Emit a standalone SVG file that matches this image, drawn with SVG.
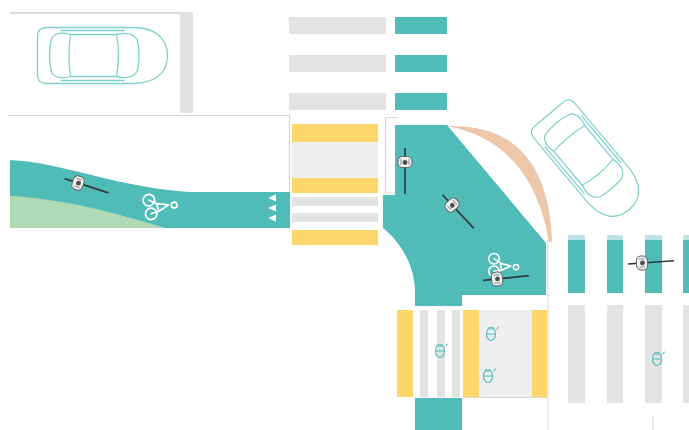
<svg xmlns="http://www.w3.org/2000/svg" width="689" height="430" viewBox="0 0 689 430">
  <style>
    .teal { fill: #4fbcb8; }
    .yellow { fill: #fdd66c; }
    .stripe { fill: #e3e3e3; }
    .pale { fill: #efefef; }
    .curb { fill: none; stroke: #d6d6d6; stroke-width: 1.2; }
    .car { fill: none; stroke: #7fd2cb; stroke-width: 1.3; stroke-linejoin: round; }
    .bike { fill: none; stroke: #ffffff; stroke-width: 1.5; stroke-linecap: round; stroke-linejoin: round; }
    .ped { fill: none; stroke: #4fbcb8; stroke-width: 1.1; stroke-linecap: round; }
    .tip { fill: #ffffff; }
  </style>
  <defs>
    <!-- car outline, centred on origin, front towards +x -->
    <g id="car-shape" class="car">
      <path d="M-56,-28 H30 C52,-28 65,-18 65,0 C65,18 52,28 30,28 H-56 Q-65,28 -65,19 V-19 Q-65,-28 -56,-28 Z"/>
      <path d="M-32,-21 Q-46,-25 -51,-17 Q-55,0 -51,17 Q-46,25 -32,21 Q-35,0 -32,-21 Z"/>
      <path d="M14,-21 Q30,-25 35,-15 Q38,0 35,15 Q30,25 14,21 Q18,0 14,-21 Z"/>
      <path d="M-32,-21 H14 M-32,21 H14 M-42,-25 H22 M-42,25 H22"/>
    </g>
    <!-- rider seen from above, heading towards +x -->
    <g id="cyclist">
      <line x1="-14" y1="0" x2="32" y2="0" stroke="#2f3a3a" stroke-width="1.7"/>
      <rect x="-5.5" y="-7" width="11" height="14" rx="4.5" fill="#f2f2f2" stroke="#5e6262" stroke-width="1"/>
      <path d="M-3,-4 H3 M-3,4 H3" stroke="#8a8a8a" stroke-width="1"/>
      <circle cx="0.5" cy="0" r="2.4" fill="#4a4f4f"/>
    </g>
    <!-- painted bicycle symbol -->
    <g id="bike-mark" class="bike">
      <circle cx="-6" cy="0" r="5"/>
      <circle cx="6" cy="0" r="5"/>
      <path d="M-6,0 L-2,-6 L5,-7 L6,0 M-2,-6 L1,-16 L5,-7"/>
      <circle cx="2" cy="-21" r="2.5"/>
    </g>
    <!-- pedestrian seen from above -->
    <g id="walker" class="ped">
      <ellipse cx="0" cy="0" rx="4.5" ry="6.5"/>
      <path d="M-4.5,0 H4.5 M-2,-6 Q0,-3 2,-6 M6,-5 L7.5,-7"/>
    </g>
  </defs>

  <rect width="689" height="430" fill="#ffffff"/>

  <!-- parking bay top left -->
  <g id="parking-bay">
    <line x1="10" y1="13" x2="183" y2="13" stroke="#dddddd" stroke-width="2"/>
    <rect x="180" y="12" width="13" height="101" fill="#e2e2e2"/>
    <use href="#car-shape" transform="translate(102.5,55.5)"/>
  </g>

  <!-- kerb lines -->
  <g id="kerbs">
    <path class="curb" d="M8,115.5 H289.5 V193"/>
    <path class="curb" d="M398,117.5 H385.5 V193 H395"/>
    <line x1="548" y1="240" x2="548" y2="430" stroke="#dddddd" stroke-width="1.2"/>
    <line x1="653" y1="417" x2="653" y2="430" stroke="#dddddd" stroke-width="1.2"/>
  </g>

  <!-- northern crossing -->
  <g id="north-crossing">
    <rect class="stripe" x="289" y="17" width="97" height="17"/>
    <rect class="stripe" x="289" y="55" width="97" height="17"/>
    <rect class="stripe" x="289" y="93" width="97" height="17"/>
    <rect class="teal" x="395" y="17" width="52" height="17"/>
    <rect class="teal" x="395" y="55" width="52" height="17"/>
    <rect class="teal" x="395" y="93" width="52" height="17"/>
  </g>

  <!-- cycle track from the west -->
  <g id="cycle-track">
    <path class="teal" d="M10,160 C60,162 120,188 190,192 L290,192 L290,228 L10,228 Z"/>
    <path fill="#b0d9b5" d="M10,196 C60,198 120,214 165,228 L10,228 Z"/>
    <polygon class="tip" points="268,198 276,194.5 276,201.5"/>
    <polygon class="tip" points="268,208 276,204.5 276,211.5"/>
    <polygon class="tip" points="268,218 276,214.5 276,221.5"/>
    <use href="#bike-mark" transform="translate(150,207) rotate(80) scale(1.15)"/>
  </g>

  <!-- central crossing -->
  <g id="central-crossing">
    <rect class="yellow" x="292" y="124" width="86" height="18"/>
    <rect class="pale" x="292" y="142" width="86" height="36"/>
    <rect class="yellow" x="292" y="178" width="86" height="15"/>
    <rect class="stripe" x="292" y="197" width="86" height="9"/>
    <rect class="stripe" x="292" y="213" width="86" height="9"/>
    <rect class="yellow" x="292" y="230" width="86" height="15"/>
  </g>

  <!-- junction surface -->
  <g id="junction">
    <path class="teal" d="M395,125 H447 L546,243 V295 H462 V306 H415 V290 C414,262 398,240 383,228 V195 H395 Z"/>
    <path fill="#eec6aa" d="M447,126 Q548,123 552,242 L549,242 Q532,142 447,126 Z"/>
    <use href="#bike-mark" transform="translate(494,265) rotate(90) scale(1.05)"/>
  </g>

  <!-- southern crossing -->
  <g id="south-crossing">
    <rect class="yellow" x="397" y="310" width="16" height="87"/>
    <rect class="stripe" x="420" y="310" width="8" height="87"/>
    <rect class="stripe" x="437" y="310" width="8" height="87"/>
    <rect class="stripe" x="452" y="310" width="8" height="87"/>
    <rect class="yellow" x="463" y="310" width="16" height="87"/>
    <rect class="pale" x="479" y="310" width="53" height="87"/>
    <rect class="yellow" x="532" y="310" width="15" height="87"/>
    <line x1="463" y1="397.5" x2="547" y2="397.5" stroke="#d8d8d8" stroke-width="1"/>
    <rect class="teal" x="415" y="398" width="47" height="32"/>
    <use href="#walker" transform="translate(440,351)"/>
    <use href="#walker" transform="translate(491,334)"/>
    <use href="#walker" transform="translate(488,376)"/>
  </g>

  <!-- eastern crossing -->
  <g id="east-crossing">
    <g class="teal">
      <rect x="568" y="235" width="17" height="58"/>
      <rect x="607" y="235" width="16" height="58"/>
      <rect x="645" y="235" width="17" height="58"/>
      <rect x="683" y="235" width="17" height="58"/>
    </g>
    <g fill="#bfe2e4">
      <rect x="568" y="235" width="17" height="5"/>
      <rect x="607" y="235" width="16" height="5"/>
      <rect x="645" y="235" width="17" height="5"/>
      <rect x="683" y="235" width="17" height="5"/>
    </g>
    <g class="stripe">
      <rect x="568" y="305" width="17" height="98"/>
      <rect x="607" y="305" width="16" height="98"/>
      <rect x="645" y="305" width="17" height="98"/>
      <rect x="683" y="305" width="17" height="98"/>
    </g>
    <use href="#walker" transform="translate(657,359)"/>
  </g>

  <!-- turning car -->
  <g id="turning-car">
    <use href="#car-shape" transform="translate(589,162) rotate(50) scale(0.96)"/>
  </g>

  <!-- riders -->
  <g id="riders">
    <use href="#cyclist" transform="translate(78,183) rotate(18)"/>
    <use href="#cyclist" transform="translate(405,162) rotate(90)"/>
    <use href="#cyclist" transform="translate(452,205) rotate(47)"/>
    <use href="#cyclist" transform="translate(497,279) rotate(-6)"/>
    <use href="#cyclist" transform="translate(642,263) rotate(-4)"/>
  </g>
</svg>
